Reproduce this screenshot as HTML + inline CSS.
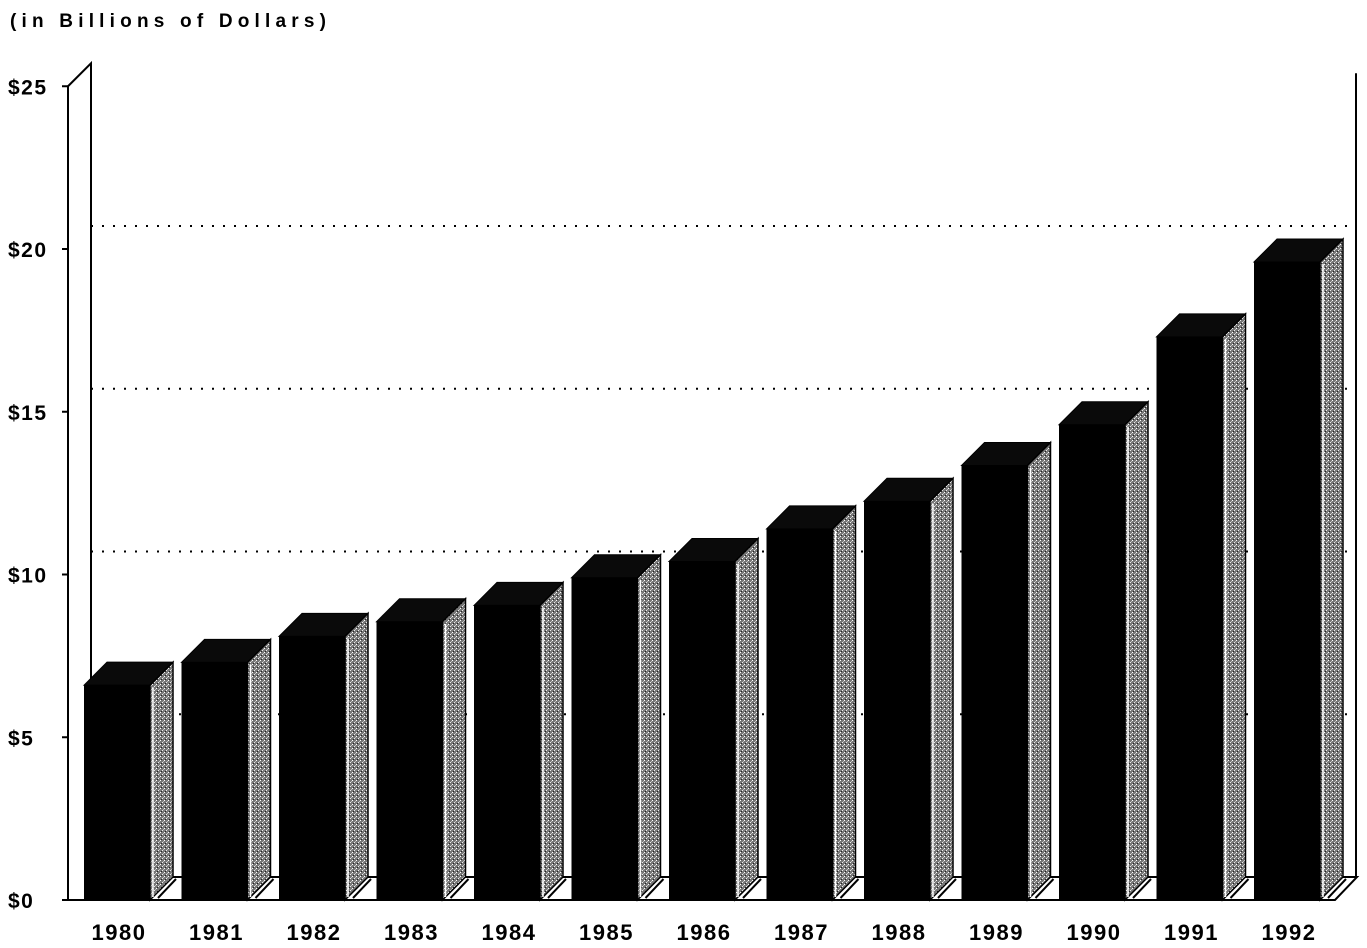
<!DOCTYPE html>
<html><head><meta charset="utf-8"><style>
body{margin:0;background:#fff}
svg{display:block}
text{font-family:"Liberation Sans",sans-serif;font-weight:bold;fill:#000}
</style></head><body>
<svg id="chart" width="1367" height="948" xmlns="http://www.w3.org/2000/svg">
<defs>
<pattern id="stip" width="4" height="4" patternUnits="userSpaceOnUse">
<rect width="4" height="4" fill="#777"/><rect x="0" y="0" width="1" height="1" fill="#fff"/><rect x="2" y="2" width="1" height="1" fill="#eee"/><rect x="3" y="1" width="1" height="1" fill="#bbb"/><rect x="1" y="3" width="1" height="1" fill="#222"/>
</pattern>
</defs>
<text x="10" y="27" font-size="19" textLength="316" lengthAdjust="spacing">(in Billions of Dollars)</text>
<g id="axes"></g>
<g id="bars"></g>
</svg>
<script>
const categories=["1980","1981","1982","1983","1984","1985","1986","1987","1988","1989","1990","1991","1992"];
const values=[6.6,7.3,8.1,8.55,9.05,9.9,10.4,11.4,12.25,13.35,14.6,17.3,19.6];
const tickValues=[0,5,10,15,20,25];
const tickLabels=["$0","$5","$10","$15","$20","$25"];
const NS="http://www.w3.org/2000/svg";
const y0=900,pxPer=32.55,dx=23,dy=23,x0=84,step=97.5,bw=66;
const y=v=>y0-v*pxPer;
const X=i=>x0+i*step;
function mk(tag,at,parent){const e=document.createElementNS(NS,tag);for(const k in at)e.setAttribute(k,at[k]);parent.appendChild(e);return e;}
const ax=document.getElementById('axes'),bg=document.getElementById('bars');
let w=mk('polyline',{points:`68,${y(25)} ${68+dx},${y(25)-dy} ${68+dx},${y0-dy} 1357,${y0-dy} 1335,${y0} 68,${y0} 68,${y(25)}`,fill:'none',stroke:'#000','stroke-width':2},ax);


let rw=mk('line',{x1:1356,x2:1356,y1:y(25)-dy+10,y2:y0-dy,stroke:'#000','stroke-width':2},ax);


tickValues.forEach((v,i)=>{
 const t=mk('text',{x:8,y:y(v)+8,'font-size':21,'letter-spacing':1.5},ax);t.textContent=tickLabels[i];
 
 
 if(v>0&&v<25){const g=mk('line',{x1:68+dx,x2:1357,y1:y(v)-dy,y2:y(v)-dy,stroke:'#000','stroke-width':2,'stroke-dasharray':'2 9'},ax);
 
 }
 const tk=mk('line',{x1:62,x2:68,y1:y(v),y2:y(v),stroke:'#000','stroke-width':2},ax);
 
 
});
categories.forEach((c,i)=>{
 const x=X(i),top=y(values[i]);
 const g=mk('g',{},bg);
 
 
 mk('line',{x1:x+bw+8,y1:y0-2,x2:x+bw+26,y2:y0-dy+2,stroke:'#000','stroke-width':2},g);
 mk('polygon',{points:`${x},${top} ${x+dx},${top-dy} ${x+bw+dx},${top-dy} ${x+bw},${top}`,fill:'#0a0a0a',stroke:'#000','stroke-width':1},g);
 mk('polygon',{points:`${x+bw},${top} ${x+bw+dx},${top-dy} ${x+bw+dx},${y0-dy} ${x+bw},${y0}`,fill:'url(#stip)',stroke:'#000','stroke-width':1.5},g);
 mk('line',{x1:x+bw+3,y1:top+2,x2:x+bw+3,y2:y0-3,stroke:'#fff','stroke-width':1.5},g);
 mk('rect',{x:x,y:top,width:bw,height:y0-top,fill:'#000'},g);
 const t=mk('text',{x:x+bw/2+2,y:940,'font-size':22,'letter-spacing':1.5,'text-anchor':'middle'},g);t.textContent=c;
 
 
});
</script>
</body></html>
